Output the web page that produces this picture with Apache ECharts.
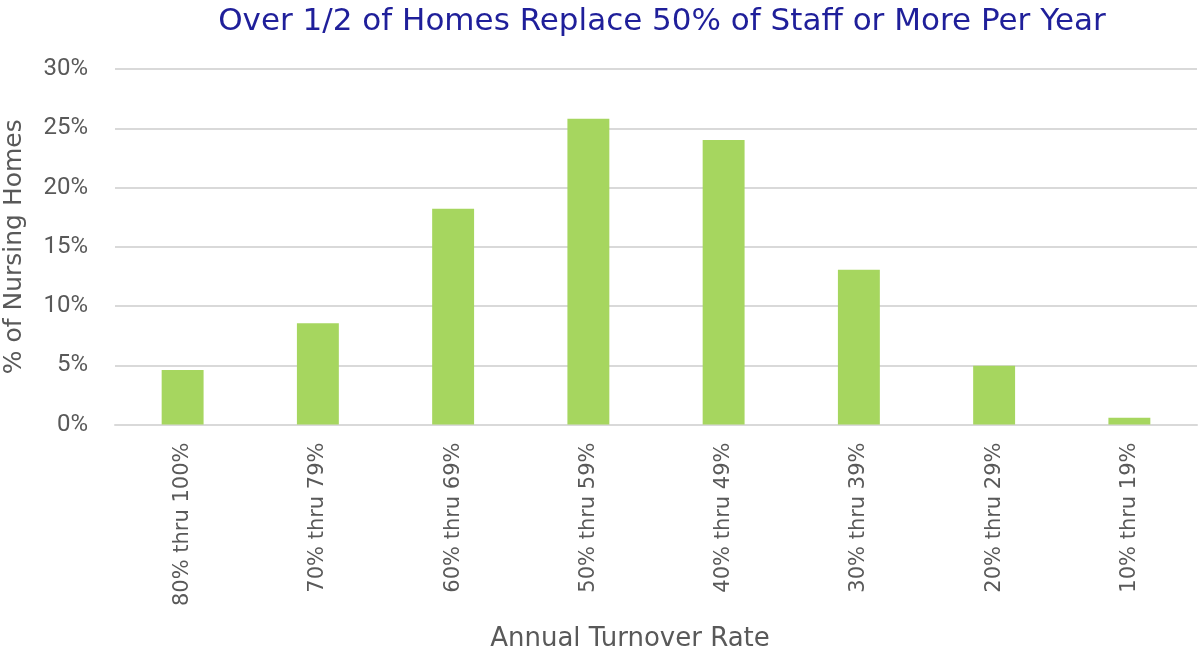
<!DOCTYPE html>
<html>
<head>
<meta charset="utf-8">
<script src="https://cdn.jsdelivr.net/npm/echarts@6/dist/echarts.min.js"></script>
<style>
  html, body { margin: 0; padding: 0; background: #fff; }
  #chart { width: 1199px; height: 655px; }
</style>
</head>
<body>
<div id="chart"></div>
<script>
// data
const categories = ['80% thru 100%', '70% thru 79%', '60% thru 69%', '50% thru 59%',
  '40% thru 49%', '30% thru 39%', '20% thru 29%', '10% thru 19%'];
const shareOfHomes = [4.6, 8.55, 18.2, 25.8, 24.0, 13.05, 4.95, 0.57];

const chart = echarts.init(document.getElementById('chart'));

const options = {
  animation: false,
  title: {
    text: 'Over 1/2 of Homes Replace 50% of Staff or More Per Year',
    left: 657,
    textAlign: 'center',
    top: 1,
    textStyle: {
      color: '#1f1f9a',
      fontFamily: 'DejaVu Sans',
      fontWeight: 'normal',
      fontSize: 31,
    },
  },
  grid: {
    left: 115,
    right: 2,
    top: 69,
    bottom: 230.5,
    outerBoundsMode: 'none',
  },
  xAxis: {
    type: 'category',
    data: categories,
    name: 'Annual Turnover Rate',
    nameLocation: 'middle',
    nameGap: 202,
    nameTextStyle: {
      color: '#595959',
      fontSize: 26,
      fontFamily: 'DejaVu Sans',
      padding: [0, 52, 0, 0],
    },
    axisLine: { lineStyle: { color: '#d9d9d9', width: 2 } },
    axisTick: { show: false },
    axisLabel: {
      rotate: 90,
      margin: 18,
      color: '#595959',
      fontSize: 21,
      fontFamily: 'DejaVu Sans',
    },
  },
  yAxis: {
    type: 'value',
    min: 0,
    max: 30,
    interval: 5,
    name: '% of Nursing Homes',
    nameLocation: 'middle',
    nameGap: 88,
    nameTextStyle: { color: '#595959', fontSize: 25, fontFamily: 'DejaVu Sans' },
    axisLabel: {
      formatter: '{value}%',
      margin: 27,
      color: '#595959',
      fontSize: 24,
      fontFamily: 'Roboto',
    },
    splitLine: { lineStyle: { color: '#d9d9d9', width: 2 } },
  },
  series: [
    {
      type: 'bar',
      data: shareOfHomes,
      barWidth: '31%',
      itemStyle: { color: '#a6d65f' },
    },
  ],
};

chart.setOption(options);
</script>
</body>
</html>
